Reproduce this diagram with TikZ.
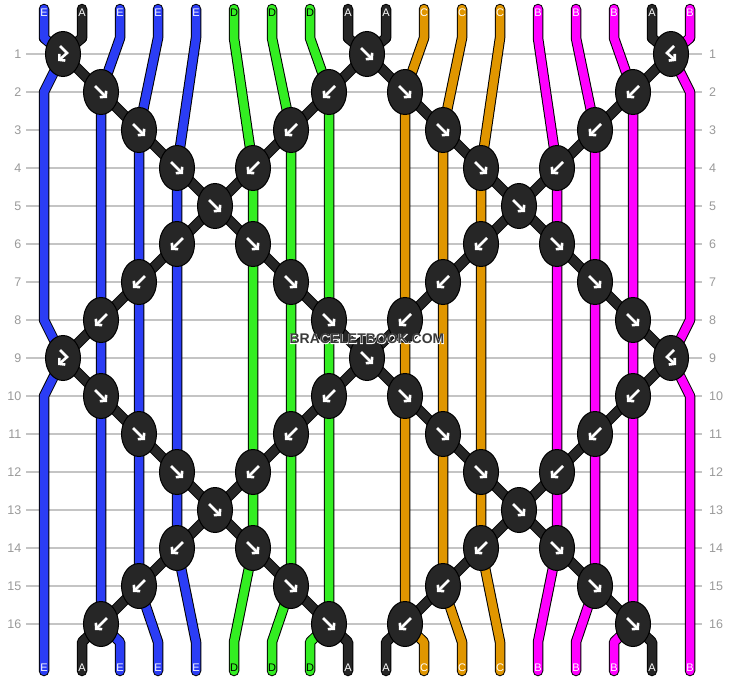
\documentclass[tikz,border=0pt]{standalone}
\usepackage{fontspec}
\setmainfont{Liberation Sans}
\newfontface\halofont[FakeBold=5]{Liberation Sans Bold}
\usetikzlibrary{shapes.geometric,arrows.meta}

\definecolor{strE}{HTML}{2B3DF5}
\definecolor{strD}{HTML}{33EE22}
\definecolor{strC}{HTML}{E09600}
\definecolor{strB}{HTML}{FF00FF}
\definecolor{strA}{HTML}{262626}
\definecolor{gridgray}{HTML}{C4C4C4}
\definecolor{numgray}{HTML}{9A9A9A}
\definecolor{wmgray}{HTML}{3A3A3A}

\tikzset{
  strand/.style={draw=black, line width=10.5pt, line cap=round, line join=round,
    postaction={draw=#1, line width=8.5pt, line cap=round, line join=round}},
  knot/.style={ellipse, draw=black, line width=1pt, fill=strA,
    minimum width=35pt, minimum height=45pt, inner sep=0pt},
  knotarrow/.style={draw=white, line width=2.6pt, line join=miter,
    -{Straight Barb[length=4pt,width=9pt]}},
  rownum/.style={text=numgray, inner sep=0pt, font=\fontsize{12.5}{13}\selectfont},
  endlabel/.style={inner sep=0pt, font=\fontsize{11}{11}\selectfont},
  gridline/.style={draw=gridgray, line width=1.4pt},
  arrowf/.pic={\draw[knotarrow] (-6,-6) -- (6,6);},
  arrowb/.pic={\draw[knotarrow] (6,-6) -- (-6,6);},
  arrowL/.pic={\draw[knotarrow] (-3,-8) -- (4,-1) -- (-5,7);},
  arrowR/.pic={\draw[knotarrow] (3,-8) -- (-4,-1) -- (5,7);},
}

\begin{document}
\begin{tikzpicture}[x=1pt,y=-1pt]
\useasboundingbox (0,0) rectangle (734,680);
\fill[white] (0,0) rectangle (734,680);

% String ends and bends
\foreach \i in {0,...,17} {
    \coordinate (t\i) at ({44+38*\i},9);
    \coordinate (u\i) at ({44+38*\i},38);
    \coordinate (v\i) at ({44+38*\i},642);
    \coordinate (b\i) at ({44+38*\i},671);
}
\coordinate (e2l) at (44,92);  \coordinate (e8l) at (44,320);  \coordinate (e10l) at (44,396);
\coordinate (e2r) at (690,92); \coordinate (e8r) at (690,320); \coordinate (e10r) at (690,396);

% Knot places (rows 1-8, repeated for 9-16)
\foreach \off in {0,8} {
    \foreach \r/\h/\kind in {1/1/L,1/17/f,1/33/R,
        2/3/f,2/15/b,2/19/f,2/31/b, 3/5/f,3/13/b,3/21/f,3/29/b,
        4/7/f,4/11/b,4/23/f,4/27/b, 5/9/f,5/25/f,
        6/7/b,6/11/f,6/23/b,6/27/f, 7/5/b,7/13/f,7/21/b,7/29/f,
        8/3/b,8/15/f,8/19/b,8/31/f} {
        \pgfmathtruncatemacro{\rr}{\r+\off}
        \coordinate (p\rr-\h) at ({44+19*\h},{54+38*(\rr-1)});
    }
}

% Row grid and numbers
\foreach \r in {1,...,16} {
    \coordinate (gl\r) at (26,{54+38*(\r-1)});
    \coordinate (gr\r) at (702,{54+38*(\r-1)});
    \draw[gridline] (gl\r) -- (gr\r);
    \node[rownum,anchor=east] (nl\r) at (21.5,{54+38*(\r-1)}) {\r};
    \node[rownum,anchor=west] (nr\r) at (709,{54+38*(\r-1)}) {\r};
}

% Colored strings
\draw[strand=strE] (t0) -- (u0) -- (p1-1) -- (e2l) -- (e8l) -- (p9-1) -- (e10l) -- (b0);
\draw[strand=strB] (t17) -- (u17) -- (p1-33) -- (e2r) -- (e8r) -- (p9-33) -- (e10r) -- (b17);
\foreach \i/\ra/\h/\rb/\col in {2/2/3/16/strE, 3/3/5/15/strE, 4/4/7/14/strE,
    5/4/11/14/strD, 6/3/13/15/strD, 7/2/15/16/strD,
    10/2/19/16/strC, 11/3/21/15/strC, 12/4/23/14/strC,
    13/4/27/14/strB, 14/3/29/15/strB, 15/2/31/16/strB} {
    \draw[strand=\col] (t\i) -- (u\i) -- (p\ra-\h) -- (p\rb-\h) -- (v\i) -- (b\i);
}

% Black strings
\draw[strand=strA] (t1) -- (u1) -- (p1-1) -- (p16-31) -- (v16) -- (b16);
\draw[strand=strA] (t8) -- (u8) -- (p1-17) -- (p9-1) -- (p16-15) -- (v8) -- (b8);
\draw[strand=strA] (t9) -- (u9) -- (p1-17) -- (p9-33) -- (p16-19) -- (v9) -- (b9);
\draw[strand=strA] (t16) -- (u16) -- (p1-33) -- (p16-3) -- (v1) -- (b1);

% Knots
\foreach \off in {0,8} {
    \foreach \r/\h/\kind in {1/1/L,1/17/f,1/33/R,
        2/3/f,2/15/b,2/19/f,2/31/b, 3/5/f,3/13/b,3/21/f,3/29/b,
        4/7/f,4/11/b,4/23/f,4/27/b, 5/9/f,5/25/f,
        6/7/b,6/11/f,6/23/b,6/27/f, 7/5/b,7/13/f,7/21/b,7/29/f,
        8/3/b,8/15/f,8/19/b,8/31/f} {
        \pgfmathtruncatemacro{\rr}{\r+\off}
        \node[knot] (k\rr-\h) at (p\rr-\h) {};
        \pic at (k\rr-\h) {arrow\kind};
    }
}

% Labels at both ends
\foreach \i/\name/\tc in {0/E/white,1/A/white,2/E/white,3/E/white,4/E/white,
    5/D/black,6/D/black,7/D/black,8/A/white,9/A/white,10/C/white,11/C/white,
    12/C/white,13/B/white,14/B/white,15/B/white,16/A/white,17/B/white} {
    \node[endlabel,text=\tc] (lt\i) at ({44+38*\i},12.5) {\name};
    \node[endlabel,text=\tc] (lb\i) at ({44+38*\i},668) {\name};
}

% Watermark (white halo under the text)
\node[text=white,font=\halofont\fontsize{14}{14}\selectfont] (wmhalo) at (367,339) {BRACELETBOOK.COM};
\node[text=wmgray,font=\bfseries\fontsize{14}{14}\selectfont] (wm) at (367,339) {BRACELETBOOK.COM};

\end{tikzpicture}
\end{document}
